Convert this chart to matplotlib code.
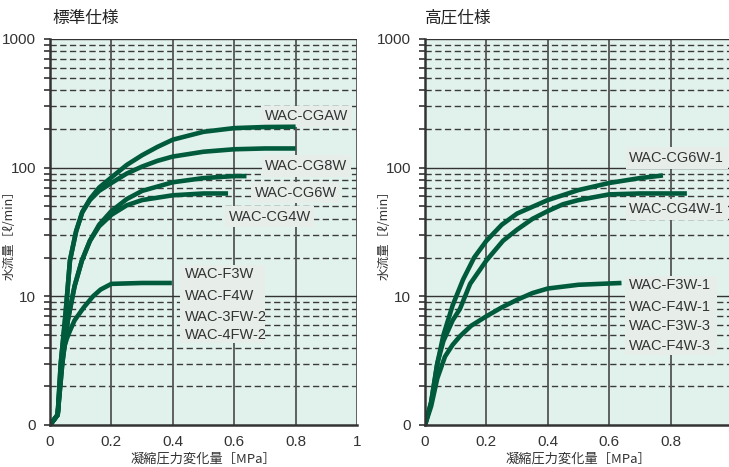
import matplotlib
matplotlib.use("Agg")
import matplotlib.pyplot as plt
from matplotlib.ticker import FixedLocator, NullFormatter

plt.rcParams['font.family'] = ['Liberation Sans', 'Noto Sans CJK JP', 'DejaVu Sans']

# ---------------- data ----------------
left_title = "標準仕様"
right_title = "高圧仕様"
ylabel = "水流量［ℓ/min］"
xlabel = "凝縮圧力変化量［MPa］"

xticks = [0, 0.2, 0.4, 0.6, 0.8, 1]
xtick_labels = ["0", "0.2", "0.4", "0.6", "0.8", "1"]
yticks = [1, 10, 100, 1000]
ytick_labels = ["0", "10", "100", "1000"]

# left panel (standard spec)
cgaw_x = [0, 0.025, 0.035, 0.05, 0.065, 0.085, 0.105, 0.13, 0.16, 0.2, 0.25, 0.3, 0.35, 0.4, 0.5, 0.6, 0.7, 0.8]
cgaw_y = [1, 1.2, 3, 7, 19, 32, 45, 57, 70, 84, 105, 125, 145, 165, 190, 203, 207, 208]
cg8w_x = [0, 0.025, 0.035, 0.05, 0.065, 0.085, 0.105, 0.13, 0.16, 0.2, 0.25, 0.3, 0.35, 0.4, 0.5, 0.6, 0.7, 0.8]
cg8w_y = [1, 1.2, 3, 7, 19, 32, 45, 56, 66, 76, 90, 102, 113, 122, 133, 139, 141, 141]
cg6w_x = [0, 0.025, 0.04, 0.058, 0.08, 0.104, 0.13, 0.16, 0.2, 0.25, 0.3, 0.4, 0.5, 0.6, 0.64]
cg6w_y = [1, 1.2, 3, 6.5, 12, 19, 27, 36, 46, 57, 66, 77, 83, 86, 86]
cg4w_x = [0, 0.025, 0.04, 0.058, 0.08, 0.104, 0.13, 0.16, 0.2, 0.25, 0.3, 0.4, 0.5, 0.58]
cg4w_y = [1, 1.2, 3, 6.5, 12, 19, 27, 35, 43, 51, 56, 61, 63, 63]
f3w_x = [0, 0.025, 0.035, 0.043, 0.055, 0.065, 0.08, 0.11, 0.14, 0.165, 0.2, 0.3, 0.397]
f3w_y = [1, 1.2, 2.5, 3.8, 4.7, 5.4, 6.5, 8.2, 10, 11.3, 12.5, 12.7, 12.7]

# right panel (high pressure spec)
cg6w1_x = [0, 0.02, 0.04, 0.06, 0.09, 0.124, 0.16, 0.2, 0.25, 0.3, 0.4, 0.5, 0.6, 0.7, 0.775]
cg6w1_y = [1, 1.5, 3, 5, 8.5, 13.5, 20, 27, 36, 44, 56, 67, 76, 83, 87]
cg4w1_x = [0, 0.02, 0.04, 0.06, 0.09, 0.114, 0.147, 0.2, 0.254, 0.3, 0.35, 0.4, 0.45, 0.5, 0.6, 0.7, 0.853]
cg4w1_y = [1, 1.5, 3, 4.5, 6.5, 8, 12.5, 19, 27, 33, 40, 46, 52, 56, 62, 63, 63]
f3w1_x = [0, 0.02, 0.04, 0.065, 0.09, 0.114, 0.15, 0.2, 0.25, 0.3, 0.35, 0.4, 0.5, 0.64]
f3w1_y = [1, 1.4, 2.3, 3.4, 4.2, 4.9, 5.9, 7, 8.2, 9.4, 10.6, 11.5, 12.3, 12.7]

left_labels = ["WAC-CGAW", "WAC-CG8W", "WAC-CG6W", "WAC-CG4W"]
left_group_labels = ["WAC-F3W", "WAC-F4W", "WAC-3FW-2", "WAC-4FW-2"]
right_labels = ["WAC-CG6W-1", "WAC-CG4W-1"]
right_group_labels = ["WAC-F3W-1", "WAC-F4W-1", "WAC-F3W-3", "WAC-F4W-3"]

# ---------------- style ----------------
W, H = 729, 467
fig = plt.figure(figsize=(W / 100, H / 100), dpi=100)
fig.patch.set_facecolor('white')

bg = '#e1f1eb'
curve_c = '#005a3c'
box_c = '#e7eeea'
text_c = '#333333'
cjk = ['Noto Sans CJK JP', 'DejaVu Sans']
minor_vals = [m * d for d in (1, 10, 100) for m in range(2, 10)]


def make_axes(px_left, px_right, show_last_x=True):
    ax = fig.add_axes([px_left / W, 1 - 425 / H, (px_right - px_left) / W, (425 - 39) / H])
    ax.set_facecolor(bg)
    ax.set_yscale('log')
    ax.set_xlim(0, 1)
    ax.set_ylim(1, 1000)
    for v in minor_vals:
        ax.axhline(v, color='#3a3a3a', lw=1.0, ls=(0, (4.5, 2.5)), zorder=1)
    for v in (10, 100, 1000):
        ax.axhline(v, color='#333333', lw=1.0, zorder=1.2)
    for v in (0.2, 0.4, 0.6, 0.8, 1.0):
        ax.axvline(v, color='#555555', lw=1.3, zorder=1.1)
    ax.yaxis.set_major_locator(FixedLocator(yticks))
    ax.set_yticklabels(ytick_labels)
    ax.yaxis.set_minor_locator(FixedLocator(minor_vals))
    ax.yaxis.set_minor_formatter(NullFormatter())
    if show_last_x:
        ax.set_xticks(xticks)
        ax.set_xticklabels(xtick_labels)
    else:
        ax.set_xticks(xticks[:-1])
        ax.set_xticklabels(xtick_labels[:-1])
    ax.tick_params(axis='y', which='both', direction='out', length=4, width=1.2,
                   color='#333333', labelsize=11, labelcolor=text_c, pad=6)
    ax.tick_params(axis='x', which='both', length=0, labelsize=11, labelcolor=text_c, pad=7)
    for s in ('top', 'right'):
        ax.spines[s].set_visible(False)
    for s in ('left', 'bottom'):
        ax.spines[s].set_color('#333333')
        ax.spines[s].set_linewidth(1.8)
        ax.spines[s].set_zorder(5)
    ax.set_xlabel(xlabel, family=cjk, fontsize=9.5, color=text_c)
    ax.xaxis.set_label_coords(0.5, -0.071)
    ax.set_ylabel(ylabel, family=cjk, fontsize=9, color=text_c)
    ax.yaxis.set_label_coords(-0.112, 0.5)
    return ax


def curve(ax, x, y):
    ax.plot(x, y, color=curve_c, lw=3.3, solid_capstyle='butt', zorder=4)


def label(ax, x, y, txt, ha='center'):
    ax.text(x, y, txt, ha=ha, va='center', fontsize=10.5, color=text_c, zorder=3,
            bbox=dict(boxstyle='square,pad=0.25', fc=box_c, ec='none'))


# left panel
axL = make_axes(50, 357)
curve(axL, cgaw_x, cgaw_y)
curve(axL, cg8w_x, cg8w_y)
curve(axL, cg6w_x, cg6w_y)
curve(axL, cg4w_x, cg4w_y)
curve(axL, f3w_x, f3w_y)
label(axL, 0.835, 250, left_labels[0])
label(axL, 0.835, 103, left_labels[1])
label(axL, 0.80, 64, left_labels[2])
label(axL, 0.715, 41.5, left_labels[3])
for i, t in enumerate(left_group_labels):
    axL.text(0.44, [14.8, 10.0, 6.9, 5.0][i], t, ha='left', va='center', fontsize=10.5,
             color=text_c, zorder=3)
axL.fill_between([0.425, 0.70], 4.3, 17.5, color=box_c, zorder=2.5, lw=0)
fig.text(52 / W, 1 - 18 / H, left_title, family=cjk,
         fontsize=12, color='#222222', ha='left', va='center')

# right panel
axR = make_axes(425, 732, show_last_x=False)
curve(axR, cg6w1_x, cg6w1_y)
curve(axR, cg4w1_x, cg4w1_y)
curve(axR, f3w1_x, f3w1_y)
label(axR, 0.82, 119, right_labels[0])
label(axR, 0.82, 47.5, right_labels[1])
for i, t in enumerate(right_group_labels):
    axR.text(0.665, [12.2, 8.2, 5.9, 4.1][i], t, ha='left', va='center', fontsize=10.5,
             color=text_c, zorder=3)
axR.fill_between([0.65, 0.95], 3.5, 14.5, color=box_c, zorder=2.5, lw=0)
fig.text(425 / W, 1 - 18 / H, right_title, family=cjk,
         fontsize=12, color='#222222', ha='left', va='center')

fig.savefig('out.png', dpi=100)
